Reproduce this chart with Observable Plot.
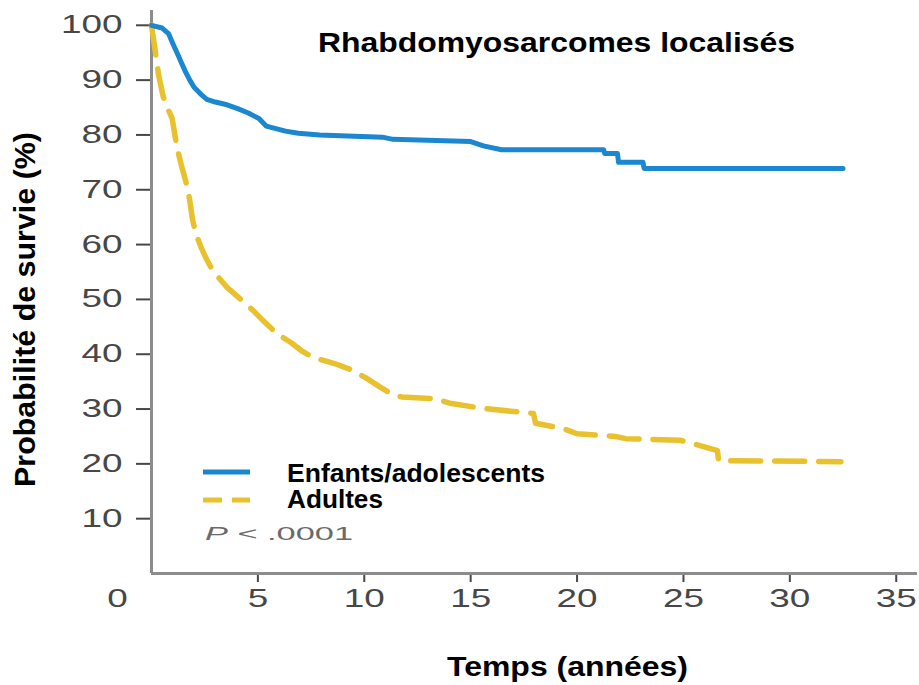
<!DOCTYPE html>
<html><head><meta charset="utf-8">
<script src="https://cdn.jsdelivr.net/npm/d3@7"></script>
<script src="https://cdn.jsdelivr.net/npm/@observablehq/plot@0.6"></script>
<style>body{margin:0;background:#fff}#chart{width:919px;height:685px}</style>
</head><body><div id="chart"></div>
<script>
// ---- Data ----
const title = "Rhabdomyosarcomes localisés";
const xLabel = "Temps (années)";
const yLabel = "Probabilité de survie (%)";
const seriesNames = ["Enfants/adolescents", "Adultes"];
const pValueText = ".0001";
const xTicks = [5, 10, 15, 20, 25, 30, 35];
const yTicks = [10, 20, 30, 40, 50, 60, 70, 80, 90, 100];
const originLabel = ["0"];

const childT = [0, 0.5, 0.8, 1.0, 1.2, 1.4, 1.6, 1.8, 2.0, 2.3, 2.6, 3.0, 3.55, 4.05, 4.55, 5.05, 5.4, 5.8, 6.3, 6.9, 7.9, 10.85, 11.35, 15.0, 15.6, 16.45, 21.25, 21.3, 21.9, 21.95, 23.1, 23.15, 32.5];
const childS = [100, 99.5, 98.5, 96.7, 95, 93.2, 91.5, 90, 88.7, 87.5, 86.5, 86, 85.5, 84.8, 84, 83, 81.6, 81.2, 80.7, 80.3, 80, 79.6, 79.2, 78.8, 78, 77.3, 77.3, 76.6, 76.6, 75, 75, 73.9, 73.9];

const adultT = [0, 0.15, 0.33, 0.55, 0.74, 0.97, 1.1, 1.2, 1.4, 1.6, 1.78, 1.93, 2.08, 2.33, 2.54, 2.84, 3.15, 3.55, 4.05, 4.77, 5.28, 5.88, 6.6, 7.1, 7.6, 8.6, 9.5, 10.15, 10.75, 11.25, 11.75, 13.3, 14.1, 15.6, 17.95, 18.05, 19.3, 20.0, 21.8, 22.3, 24.85, 25.45, 26.6, 26.65, 32.4];
const adultS = [100, 96, 91, 87, 85, 83, 80, 77.7, 74.5, 71.7, 68.5, 64.5, 62, 59.5, 57.7, 55.5, 54, 52.2, 50.5, 48, 46, 43.8, 42, 40.5, 39.4, 38.3, 37, 35.5, 34, 32.8, 32.2, 31.9, 31, 30.1, 29.2, 27.4, 26.5, 25.5, 25, 24.6, 24.3, 23.7, 22.4, 20.6, 20.4];

const child = childT.map((t, i) => ({t, s: childS[i]}));
const adult = adultT.map((t, i) => ({t, s: adultS[i]}));

const blue = "#1a87d0";
const yellow = "#e8c12c";
const font = "'Liberation Sans', Arial, Helvetica, sans-serif";

const plot = Plot.plot({
  width: 919, height: 685,
  marginLeft: 151, marginRight: 2, marginTop: 10, marginBottom: 112,
  x: {domain: [0, 36]},
  y: {domain: [0, 102.7]},
  style: {fontFamily: font, background: "#fff", overflow: "visible"},
  marks: [
    Plot.axisY(yTicks, {tickSize: 15, tickPadding: 14, fontSize: 25, color: "#474747", strokeWidth: 2, label: null}),
    Plot.axisX(xTicks, {tickSize: 9, tickPadding: 7, fontSize: 25, color: "#474747", strokeWidth: 2, label: null}),
    Plot.ruleX([0], {stroke: "#8c8c8c", strokeWidth: 3}),
    Plot.ruleY([0], {stroke: "#8c8c8c", strokeWidth: 3}),
    Plot.text(originLabel, {x: 0, y: 0, text: d => d, dx: -34, dy: 25, fontSize: 25, fill: "#474747"}),
    Plot.line(adult, {x: "t", y: "s", curve: "linear", stroke: yellow, strokeWidth: 5.5, strokeDasharray: "30,14"}),
    Plot.line(child, {x: "t", y: "s", curve: "linear", stroke: blue, strokeWidth: 5})
  ]
});
document.getElementById("chart").appendChild(plot);

const svg = d3.select(plot);
// stretch tick labels horizontally like the reference
svg.selectAll('g[aria-label$="tick label"] text, g[aria-label="text"] text').each(function() {
  const s = this.textContent;
  d3.select(this).attr("textLength", s.length * 20.5).attr("lengthAdjust", "spacingAndGlyphs");
});

// title
svg.append("text").attr("x", 556.5).attr("y", 52).attr("text-anchor", "middle")
  .attr("font-family", font).attr("font-weight", "bold").attr("font-size", 28).attr("fill", "#000")
  .attr("textLength", 477).attr("lengthAdjust", "spacingAndGlyphs").text(title);
// x label
svg.append("text").attr("x", 567.5).attr("y", 676).attr("text-anchor", "middle")
  .attr("font-family", font).attr("font-weight", "bold").attr("font-size", 28).attr("fill", "#000")
  .attr("textLength", 241).attr("lengthAdjust", "spacingAndGlyphs").text(xLabel);
// y label
svg.append("text").attr("transform", "translate(35,309.5) rotate(-90)").attr("text-anchor", "middle")
  .attr("font-family", font).attr("font-weight", "bold").attr("font-size", 30).attr("fill", "#000")
  .attr("textLength", 355).attr("lengthAdjust", "spacingAndGlyphs").text(yLabel);

// legend
const lg = svg.append("g").attr("text-anchor", "start");
lg.append("line").attr("x1", 203).attr("x2", 250).attr("y1", 472).attr("y2", 472)
  .attr("stroke", blue).attr("stroke-width", 5);
lg.append("line").attr("x1", 203).attr("x2", 250).attr("y1", 500).attr("y2", 500)
  .attr("stroke", yellow).attr("stroke-width", 5).attr("stroke-dasharray", "19,10");
lg.append("text").attr("x", 287).attr("y", 482).attr("font-family", font).attr("font-weight", "bold")
  .attr("font-size", 25).attr("textLength", 258).attr("lengthAdjust", "spacingAndGlyphs").text(seriesNames[0]);
lg.append("text").attr("x", 287).attr("y", 508).attr("font-family", font).attr("font-weight", "bold")
  .attr("font-size", 25).attr("textLength", 96).attr("lengthAdjust", "spacingAndGlyphs").text(seriesNames[1]);
const pt = lg.append("text").attr("x", 205).attr("y", 540).attr("font-family", font)
  .attr("font-size", 19).attr("fill", "#6a6a6a").attr("textLength", 148).attr("lengthAdjust", "spacingAndGlyphs");
pt.append("tspan").attr("font-style", "italic").text("P");
pt.append("tspan").text(" < " + pValueText);
</script>
</body></html>
